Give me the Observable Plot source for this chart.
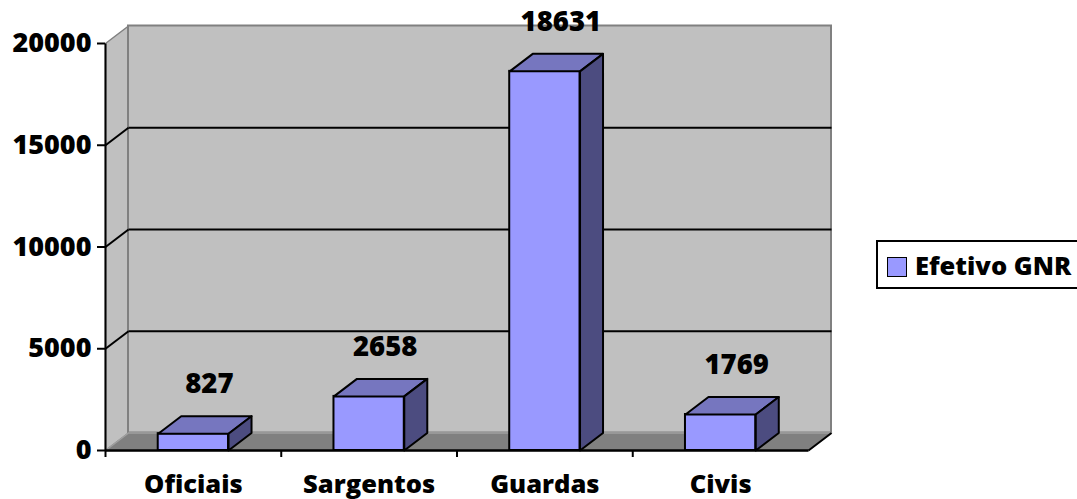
<!DOCTYPE html>
<html><head><meta charset="utf-8">
<script src="https://cdn.jsdelivr.net/npm/d3@7"></script>
<script src="https://cdn.jsdelivr.net/npm/@observablehq/plot@0.6"></script>
<style>
body{margin:0;background:#fff;overflow:hidden;}
#wrap{position:relative;width:1077px;height:499px;font-family:"Open Sans",sans-serif;overflow:hidden;}
#wrap svg{position:absolute;left:0;top:0;}
#legend{position:absolute;left:876px;top:240px;width:230px;height:49px;box-sizing:border-box;border:2px solid #000;background:#fff;white-space:nowrap;}
#legend .sw{position:absolute;left:9px;top:15px;width:20px;height:20px;box-sizing:border-box;border:1.5px solid #000;background:#9999ff;}
#legend .tx{position:absolute;left:37px;top:5px;font-size:25.5px;font-weight:800;line-height:36px;color:#000;}
</style></head><body><div id="wrap"></div>
<script>
const categories = ["Oficiais", "Sargentos", "Guardas", "Civis"];
const values = [827, 2658, 18631, 1769];
const yTicks = [0, 5000, 10000, 15000, 20000];
const seriesName = "Efetivo GNR";

const W = 1077, H = 499, mL = 105, mR = 269, mT = 43, mB = 49;
const yMax = 20000;
const nCat = categories.length;
const depthPx = [23, 17.5];
const pxPerCat = (W - mL - mR) / nCat;
const pxPerVal = (H - mT - mB) / yMax;
const dX = depthPx[0] / pxPerCat, dY = depthPx[1] / pxPerVal;
const barInset = 0.3;

function poly(id, pts) { return pts.concat([pts[0]]).map(([x, y]) => ({id, x, y})); }

const sideWall = poly("side", [[0, 0], [0, yMax], [dX, yMax + dY], [dX, dY]]);
const floorPoly = poly("floor", [[0, 0], [nCat, 0], [nCat + dX, dY], [dX, dY]]);
const bars = categories.map((c, i) => ({c, i, v: values[i], x1: i + barInset, x2: i + 1 - barInset}));
const tops = bars.flatMap(b => poly(b.c, [[b.x1, b.v], [b.x2, b.v], [b.x2 + dX, b.v + dY], [b.x1 + dX, b.v + dY]]));
const sides = bars.flatMap(b => poly(b.c, [[b.x2, 0], [b.x2, b.v], [b.x2 + dX, b.v + dY], [b.x2 + dX, dY]]));
const gridVals = yTicks.filter(v => v > 0 && v < yMax);

const chart = Plot.plot({
  width: W, height: H, marginLeft: mL, marginRight: mR, marginTop: mT, marginBottom: mB,
  x: {type: "linear", domain: [0, nCat], label: null},
  y: {type: "linear", domain: [0, yMax], label: null},
  style: {fontFamily: '"Open Sans", sans-serif', background: "transparent", overflow: "visible"},
  marks: [
    Plot.line(sideWall, {x: "x", y: "y", z: "id", fill: "#c0c0c0", stroke: "#808080", strokeWidth: 1.5}),
    Plot.rect([{a: 0, b: nCat, c: 0, d: yMax}], {x1: "a", x2: "b", y1: "c", y2: "d", dx: depthPx[0], dy: -depthPx[1], fill: "#c0c0c0", stroke: "#808080", strokeWidth: 2}),
    Plot.line(floorPoly, {x: "x", y: "y", z: "id", fill: "#808080", stroke: "#a0a0a0", strokeWidth: 1.5}),
    Plot.link(gridVals, {x1: () => 0, x2: () => nCat, y1: d => d, y2: d => d, dx: depthPx[0], dy: -depthPx[1], stroke: "#000", strokeWidth: 2}),
    Plot.link(gridVals, {x1: () => 0, x2: () => dX, y1: d => d, y2: d => d + dY, stroke: "#000", strokeWidth: 2}),
    Plot.link([0], {x1: () => nCat, x2: () => nCat + dX, y1: () => 0, y2: () => dY, stroke: "#000", strokeWidth: 2}),
    Plot.link([0], {x1: () => 0, x2: () => nCat, y1: () => 0, y2: () => 0, stroke: "#000", strokeWidth: 2.5}),
    Plot.link([0], {x1: () => 0, x2: () => 0, y1: () => 0, y2: () => yMax, stroke: "#000", strokeWidth: 2}),
    Plot.rect(bars, {x1: "x1", x2: "x2", y1: () => 0, y2: "v", fill: "#9999ff", stroke: "#000", strokeWidth: 2}),
    Plot.line(tops, {x: "x", y: "y", z: "id", fill: "#7676bf", stroke: "#000", strokeWidth: 2, strokeLinejoin: "round"}),
    Plot.line(sides, {x: "x", y: "y", z: "id", fill: "#4c4c80", stroke: "#000", strokeWidth: 2, strokeLinejoin: "round"}),
    Plot.text(bars, {x: d => d.i + 0.5, y: "v", text: d => String(d.v), dx: 16, dy: -49, fontSize: 27.5, fontWeight: 800, fill: "#000"}),
    Plot.axisY(yTicks, {tickSize: 8, tickPadding: 6, stroke: "#000", strokeWidth: 2, fill: "#000", fontSize: 27, fontWeight: 800, tickFormat: d => String(d)}),
    Plot.axisX([0, 1, 2, 3], {tickSize: 7, tickFormat: () => "", stroke: "#000", strokeWidth: 2}),
    Plot.axisX(categories.map((c, i) => i + 0.5), {tickSize: 0, tickPadding: 24, tickFormat: d => categories[Math.floor(d)], fontSize: 25.5, fontWeight: 800, fill: "#000"})
  ]
});
const wrap = document.getElementById("wrap");
wrap.appendChild(chart);
const lg = document.createElement("div");
lg.id = "legend";
lg.innerHTML = '<div class="sw"></div><div class="tx"></div>';
lg.querySelector(".tx").textContent = seriesName;
wrap.appendChild(lg);
</script></body></html>
